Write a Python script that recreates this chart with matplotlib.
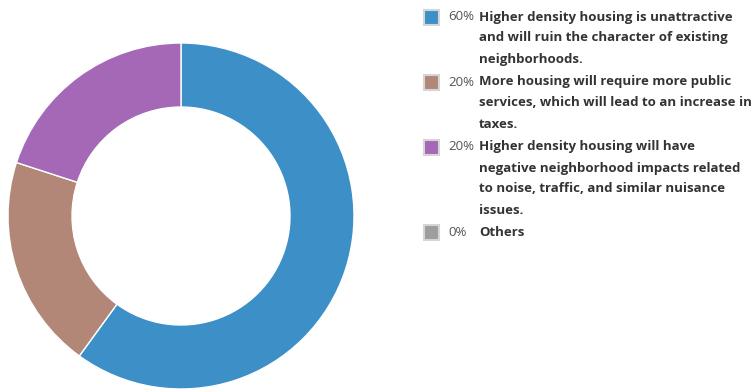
import matplotlib.pyplot as plt

W, H = 756, 391

# data
shares = [60, 20, 20, 0]
pct_labels = ["60%", "20%", "20%", "0%"]
answers = [
    ["Higher density housing is unattractive",
     "and will ruin the character of existing",
     "neighborhoods."],
    ["More housing will require more public",
     "services, which will lead to an increase in",
     "taxes."],
    ["Higher density housing will have",
     "negative neighborhood impacts related",
     "to noise, traffic, and similar nuisance",
     "issues."],
    ["Others"],
]
colors = ["#3d8fc8", "#b28777", "#a468b6", "#9e9e9e"]

fig = plt.figure(figsize=(W / 100, H / 100), dpi=100)

# donut
cx, cy, r = 181, 216, 173
ax = fig.add_axes([(cx - r) / W, (H - cy - r) / H, 2 * r / W, 2 * r / H])
ax.pie(shares[:3], colors=colors[:3], startangle=90, counterclock=False,
       radius=1, wedgeprops=dict(width=0.37, edgecolor="white", linewidth=1))
ax.set_xlim(-1, 1)
ax.set_ylim(-1, 1)
ax.set_aspect("equal")
ax.axis("off")

# legend, one line at a time
line_y = [[17, 38, 59], [82, 103, 124], [147, 168, 189, 210], [232]]
fam = ["Open Sans", "DejaVu Sans"]
for i in range(len(shares)):
    y0 = line_y[i][0]
    fig.patches.append(plt.Rectangle((423.5 / W, 1 - (y0 + 7.5) / H), 15 / W, 15 / H,
                                     transform=fig.transFigure, facecolor=colors[i],
                                     edgecolor="#d5d5d5", linewidth=1.5))
    fig.text(448 / W, 1 - y0 / H, pct_labels[i], fontsize=9.5, color="#555555",
             family=fam, va="center", ha="left")
    for ln, y in zip(answers[i], line_y[i]):
        fig.text(479 / W, 1 - y / H, ln, fontsize=9.5, color="#333333",
                 family=fam, weight="bold", va="center", ha="left")

fig.savefig("out.png", dpi=100, facecolor="white")
